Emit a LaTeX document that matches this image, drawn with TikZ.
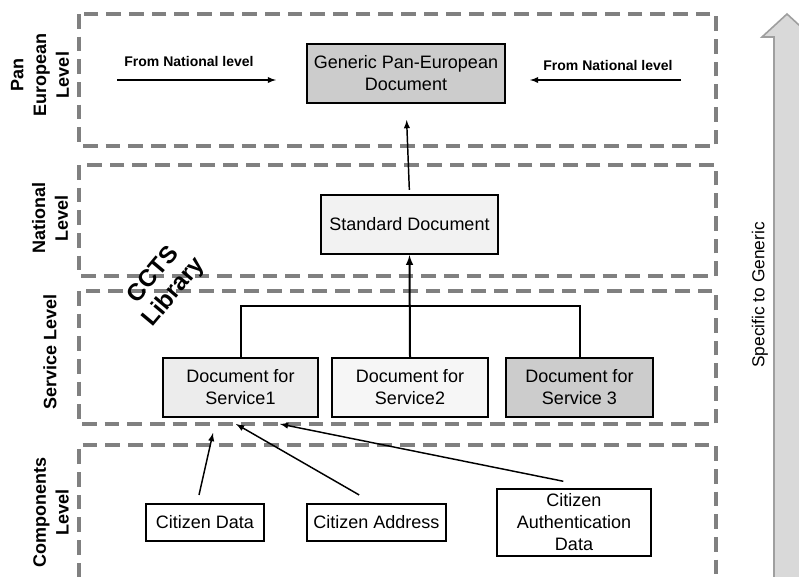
\documentclass[tikz,border=0pt]{standalone}
\usepackage{fontspec}
\setmainfont{Liberation Sans}
\usetikzlibrary{positioning}

\tikzset{
 doc/.style={draw=black,line width=1.6pt,align=center,inner sep=0pt,font=\fontsize{13.5}{16.5}\selectfont},
 levelbox/.style={draw=gray,line width=2.4pt,dash pattern=on 11pt off 6pt},
 levellabel/.style={rotate=90,align=center,font=\bfseries\fontsize{13.5}{17}\selectfont},
 link/.style={->,>=latex,line width=1.1pt},
}

\begin{document}
\begin{tikzpicture}[x=0.75pt,y=-0.75pt]
 \useasboundingbox (0,0) rectangle (799,576);
 \clip (0,0) rectangle (799,576);
 % level frames
 \draw[levelbox] (79,14) rectangle (716,146);
 \draw[levelbox] (79,165) rectangle (716,276);
 \draw[levelbox] (79,291) rectangle (716,424);
 \draw[levelbox] (79,600) -- (79,445) -- (716,445) -- (716,600);
 % level labels
 \node[levellabel] (panlbl) at (40,75) {Pan\\European\\Level};
 \node[levellabel] (natlbl) at (50,218) {National\\Level};
 \node[levellabel] (svclbl) at (50,352) {Service Level};
 \node[levellabel] (cmplbl) at (51,512) {Components\\Level};
 \node[rotate=50,align=center,inner sep=0pt,font=\bfseries\fontsize{18}{20}\selectfont] (ccts) at (164,284) {CCTS\\Library};
 % documents
 \node[doc,fill=gray!40,minimum width=148.5pt,minimum height=44.25pt] (gen) at (406,73.5) {Generic Pan-European\\Document};
 \node[doc,fill=gray!10,minimum width=132.75pt,minimum height=44.25pt] (std) at (409.5,224.5) {Standard Document};
 \node[doc,fill=gray!15,minimum width=116.25pt,minimum height=44.25pt] (sv1) at (240.5,387.5) {Document for\\Service1};
 \node[doc,fill=gray!7,minimum width=117pt,minimum height=44.25pt] (sv2) at (410,387.5) {Document for\\Service2};
 \node[doc,fill=gray!40,minimum width=110.25pt,minimum height=44.25pt] (sv3) at (579.5,387.5) {Document for\\Service 3};
 % components
 \node[doc,fill=white,minimum width=88.5pt,minimum height=27.75pt] (cdata) at (205,522.5) {Citizen Data};
 \node[doc,fill=white,minimum width=104.25pt,minimum height=27.75pt] (caddr) at (376.5,522.5) {Citizen Address};
 \node[doc,fill=white,minimum width=115.5pt,minimum height=50.25pt] (cauth) at (574,522.5) {Citizen\\Authentication\\Data};
 % from national level
 \coordinate (natL) at (117,80);
 \coordinate (natR) at (681,80);
 \node[font=\bfseries\fontsize{10.5}{12}\selectfont] (natLlbl) at (189,61) {From National level};
 \node[font=\bfseries\fontsize{10.5}{12}\selectfont] (natRlbl) at (608,65) {From National level};
 \draw[link,shorten >=22.5pt] (natL) -- (gen.west |- natL);
 \draw[link,shorten >=18pt] (natR) -- (gen.east |- natR);
 % tree of service documents
 \coordinate (bus) at (410,306);
 \draw[line width=1.5pt] (sv1.north) |- (bus) -| (sv3.north);
 \draw[link,line width=1.5pt] (sv2.north) -- (std.south);
 \draw[link,shorten <=3pt,shorten >=12pt] (std.north) -- (gen.south);
 % components to service
 \coordinate (tipA) at (213,433);
 \coordinate (tipB) at (236,424);
 \coordinate (tipC) at (280,424);
 \draw[link] ([xshift=-4.5pt,yshift=6pt]cdata.north) -- (tipA);
 \draw[link] ([xshift=-13pt,yshift=6pt]caddr.north) -- (tipB);
 \draw[link] ([xshift=-8pt,yshift=5pt]cauth.north) -- (tipC);
 % specific to generic
 \draw[draw=gray!75,fill=gray!30,line width=1.2pt] (774,600) -- (774,37) -- (762,37) -- (787,14) -- (812,37) -- (800,37) -- (800,600) -- cycle;
 \node[rotate=90,font=\fontsize{13}{15}\selectfont] (spec) at (760,295) {Specific to Generic};
\end{tikzpicture}
\end{document}
